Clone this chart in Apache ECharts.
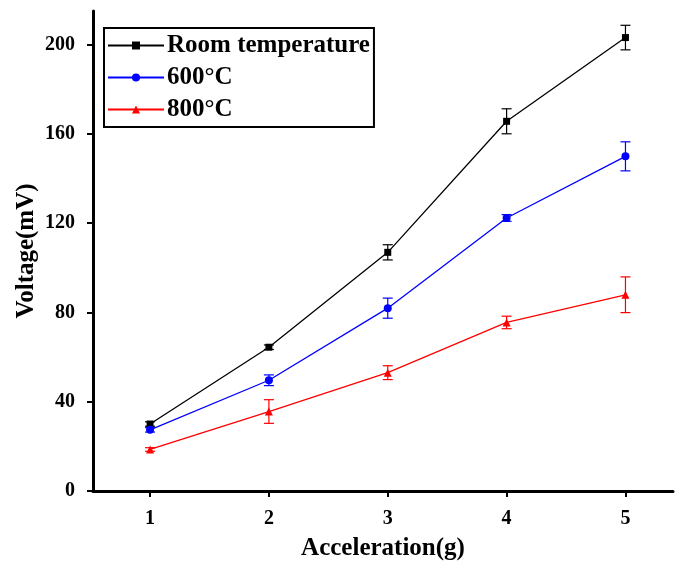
<!DOCTYPE html>
<html>
<head>
<meta charset="utf-8">
<script src="https://cdn.jsdelivr.net/npm/echarts@6/dist/echarts.min.js"></script>
<style>
* { margin: 0; padding: 0; }
body { background: #fff; }
</style>
</head>
<body>
<div id="chart" style="width: 676px;height: 561px;"></div>
<script>
// 加速度 (g)
const accel = [1, 2, 3, 4, 5]
const yTicks = [0, 40, 80, 120, 160, 200]
// 电压均值和误差
const roomTemp = [30.0, 64.4, 106.9, 165.6, 203.1]
const roomTempErr = [1.0, 1.0, 3.4, 5.6, 5.5]
const temp600 = [27.4, 49.6, 81.9, 122.3, 149.9]
const temp600Err = [1.0, 2.4, 4.5, 1.5, 6.5]
const temp800 = [18.6, 35.6, 53.0, 75.5, 87.9]
const temp800Err = [0.8, 5.3, 3.1, 2.8, 8.0]

const font = 'Liberation Serif'

function pairs(ys) {
    return accel.map((x, i) => [x, ys[i]])
}

function errBar(name, ys, errs, color) {
    return {
        type: 'custom',
        name: name + ' err',
        z: 1,
        data: accel.map((x, i) => [x, ys[i] - errs[i], ys[i] + errs[i]]),
        renderItem(params, api) {
            const lo = api.coord([api.value(0), api.value(1)])
            const hi = api.coord([api.value(0), api.value(2)])
            const w = 5
            const style = { stroke: color, lineWidth: 1.2 }
            return {
                type: 'group',
                children: [
                    { type: 'line', shape: { x1: lo[0], y1: lo[1], x2: hi[0], y2: hi[1] }, style },
                    { type: 'line', shape: { x1: lo[0] - w, y1: lo[1], x2: lo[0] + w, y2: lo[1] }, style },
                    { type: 'line', shape: { x1: hi[0] - w, y1: hi[1], x2: hi[0] + w, y2: hi[1] }, style }
                ]
            }
        }
    }
}

function line(name, ys, color, symbol, size) {
    return {
        type: 'line',
        name: name,
        data: pairs(ys),
        symbol: symbol,
        symbolSize: size,
        z: 3,
        color: color,
        lineStyle: { color: color, width: 1.3 },
        itemStyle: { color: color }
    }
}

const chart = echarts.init(document.getElementById('chart'))
chart.setOption({
    animation: false,
    backgroundColor: '#fff',
    grid: { left: 93, right: 3, top: 11, bottom: 70, containLabel: false, outerBoundsMode: 'none' },
    legend: {
        data: ['Room temperature', '600°C', '800°C'],
        orient: 'vertical',
        left: 104,
        top: 28,
        itemWidth: 56,
        itemHeight: 10,
        itemGap: 7,
        padding: [5, 4, 5, 3],
        borderColor: '#000',
        borderWidth: 2,
        backgroundColor: '#fff',
        textStyle: { fontFamily: font, fontWeight: 'bold', fontSize: 25, color: '#000', padding: [0, 0, 0, -2] }
    },
    xAxis: {
        type: 'value',
        min: 0.52,
        max: 5.4,
        name: 'Acceleration(g)',
        nameLocation: 'middle',
        nameGap: 45,
        nameMoveOverlap: false,
        nameTextStyle: { fontFamily: font, fontWeight: 'bold', fontSize: 25, color: '#000' },
        axisLine: { show: true, lineStyle: { color: '#000', width: 3 } },
        axisTick: { show: true, customValues: accel, length: 6, lineStyle: { color: '#000', width: 2 } },
        axisLabel: { customValues: accel, margin: 18, fontFamily: font, fontWeight: 'bold', fontSize: 20, color: '#000' },
        splitLine: { show: false }
    },
    yAxis: {
        type: 'value',
        min: 0,
        max: 215,
        name: 'Voltage(mV)',
        nameLocation: 'middle',
        nameGap: 54,
        nameMoveOverlap: false,
        nameTextStyle: { fontFamily: font, fontWeight: 'bold', fontSize: 25, color: '#000' },
        axisLine: { show: true, lineStyle: { color: '#000', width: 3 } },
        axisTick: { show: true, customValues: yTicks, length: 6, lineStyle: { color: '#000', width: 2 } },
        axisLabel: { customValues: yTicks, margin: 18, fontFamily: font, fontWeight: 'bold', fontSize: 20, color: '#000' },
        splitLine: { show: false }
    },
    series: [
        line('Room temperature', roomTemp, '#000', 'rect', 7),
        line('600°C', temp600, '#0000ff', 'circle', 8),
        line('800°C', temp800, '#ff0000', 'triangle', 8),
        errBar('Room temperature', roomTemp, roomTempErr, '#000'),
        errBar('600°C', temp600, temp600Err, '#0000ff'),
        errBar('800°C', temp800, temp800Err, '#ff0000')
    ]
})
</script>
</body>
</html>
